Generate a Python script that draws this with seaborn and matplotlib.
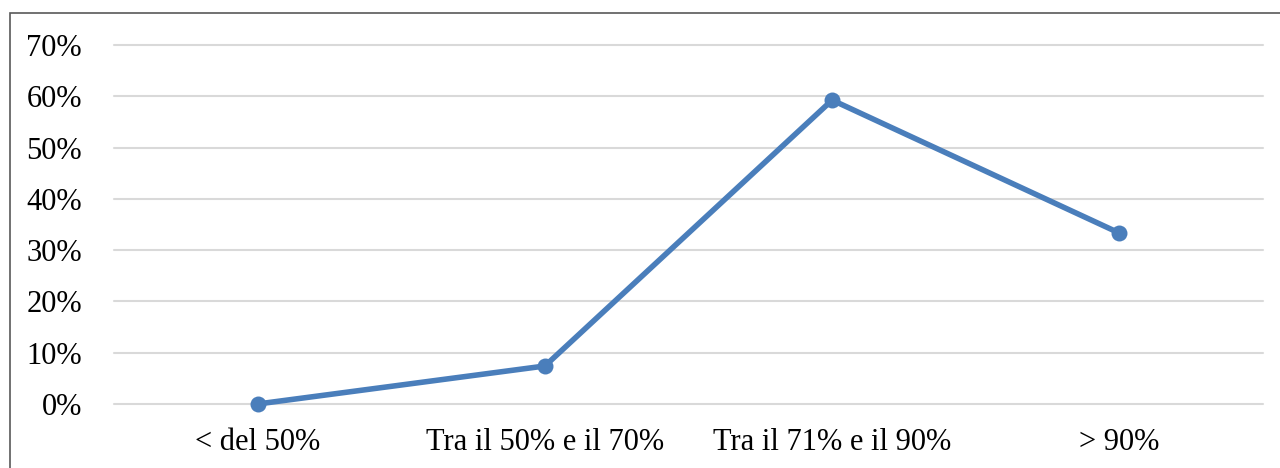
import matplotlib
matplotlib.use("Agg")
import matplotlib.pyplot as plt
import matplotlib.patches as mpatches
from matplotlib.ticker import FuncFormatter, MultipleLocator
import seaborn as sns
import pandas as pd

categories = ["< del 50%", "Tra il 50% e il 70%", "Tra il 71% e il 90%", "> 90%"]
shares = [0.0, 0.0741, 0.5926, 0.3333]

sns.set_theme(style="white")
plt.rcParams["font.family"] = ["Liberation Serif", "DejaVu Serif"]

df = pd.DataFrame({"categoria": categories, "quota": shares})

fig = plt.figure(figsize=(12.8, 4.68), dpi=100)
W, H = 1280, 468
ax = fig.add_axes([114 / W, 1 - 404 / H, (1263 - 114) / W, (404 - 45) / H])

sns.lineplot(data=df, x="categoria", y="quota", ax=ax, color="#4A7EBB",
             linewidth=4.0, marker="o", markersize=11.5, markeredgewidth=0,
             sort=False, clip_on=False, zorder=3)

ax.set_xlim(-0.5, 3.5)
ax.set_ylim(0, 0.7)
ax.yaxis.set_major_locator(MultipleLocator(0.1))
ax.yaxis.set_major_formatter(FuncFormatter(lambda v, _: f"{v * 100:.0f}%"))
ax.grid(axis="y", color="#D9D9D9", linewidth=1.5)
ax.grid(axis="x", visible=False)
ax.set_axisbelow(True)
for s in ax.spines.values():
    s.set_visible(False)
ax.set_xlabel("")
ax.set_ylabel("")
ax.tick_params(axis="y", length=0, pad=23, labelsize=22, labelcolor="black")
ax.tick_params(axis="x", length=0, pad=17, labelsize=22, labelcolor="black")
for line in ax.lines:
    line.set_clip_on(False)
for gl in ax.get_ygridlines():
    gl.set_clip_on(False)

# outer frame of the chart area
frame = mpatches.Rectangle((10 / W, -0.05), 1.2, 1 - 13 / H + 0.05,
                           transform=fig.transFigure, fill=False,
                           edgecolor="#595959", linewidth=1.2)
fig.patches.append(frame)

fig.savefig("out.png", dpi=100)
